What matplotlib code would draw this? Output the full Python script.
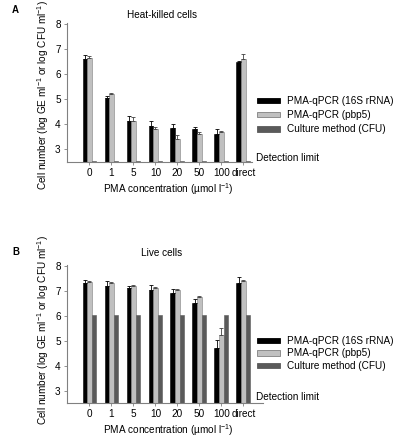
import numpy as np
import matplotlib
matplotlib.use("Agg")
import matplotlib.pyplot as plt
from matplotlib.patches import Patch

plt.rcParams["font.family"] = ["Liberation Sans", "DejaVu Sans"]
plt.rcParams["mathtext.default"] = "regular"

groups = ["0", "1", "5", "10", "20", "50", "100", "direct"]
series_names = ["PMA-qPCR (16S rRNA)", "PMA-qPCR (pbp5)", "Culture method (CFU)"]

# panel A: heat-killed cells
heat_16s = [6.60, 5.05, 4.15, 3.92, 3.85, 3.80, 3.63, 6.49]
heat_16s_err = [0.17, 0.08, 0.20, 0.20, 0.15, 0.11, 0.20, 0.03]
heat_pbp5 = [6.67, 5.20, 4.15, 3.81, 3.42, 3.60, 3.69, 6.63]
heat_pbp5_err = [0.07, 0.04, 0.16, 0.10, 0.15, 0.11, 0.03, 0.17]
heat_cfu = [2.55, 2.55, 2.55, 2.55, 2.55, 2.55, 2.55, 2.55]

# panel B: live cells
live_16s = [7.32, 7.22, 7.12, 7.03, 6.91, 6.54, 4.72, 7.32]
live_16s_err = [0.12, 0.20, 0.10, 0.20, 0.17, 0.16, 0.31, 0.23]
live_pbp5 = [7.38, 7.32, 7.19, 7.12, 7.05, 6.78, 5.23, 7.41]
live_pbp5_err = [0.03, 0.03, 0.04, 0.03, 0.03, 0.04, 0.30, 0.03]
live_cfu = [6.05, 6.05, 6.05, 6.05, 6.05, 6.05, 6.05, 6.05]

colors = ["black", "#c0c0c0", "#5a5a5a"]
edges = ["black", "#808080", "#5a5a5a"]
W, H = 398, 443


def fig_rect(x0, x1, ytop, ybot):
    return [x0 / W, 1 - ybot / H, (x1 - x0) / W, (ybot - ytop) / H]


def panel(fig, rect, right, v16, e16, vpb, epb, vcfu, title, letter, legend_top, spacing, det_y, ylab_y):
    ax = fig.add_axes(rect)
    x = np.arange(len(groups))
    bw = 0.21
    zeros = np.zeros(len(groups))
    ax.bar(x - bw, v16, bw, color=colors[0], edgecolor=edges[0], lw=0.4,
           yerr=[zeros, e16], capsize=1.5, error_kw=dict(lw=0.6, capthick=0.6, ecolor="black"))
    ax.bar(x, vpb, bw, color=colors[1], edgecolor=edges[1], lw=0.4,
           yerr=[zeros, epb], capsize=1.5, error_kw=dict(lw=0.6, capthick=0.6, ecolor="#404040"))
    ax.bar(x + bw, vcfu, bw, color=colors[2], edgecolor=edges[2], lw=0.4)
    ax.set_ylim(2.5, 8.05)
    ax.set_xlim(-1.02, right)
    ax.set_yticks([3, 4, 5, 6, 7, 8])
    ax.set_xticks(x)
    ax.set_xticklabels(groups)
    ax.tick_params(labelsize=7.2, length=2, width=0.6, pad=2.5, color="#808080")
    for s in ["top", "right"]:
        ax.spines[s].set_visible(False)
    for s in ["left", "bottom"]:
        ax.spines[s].set_color("#808080")
        ax.spines[s].set_linewidth(0.8)
    ax.set_ylabel("Cell number (log GE ml$^{-1}$ or log CFU ml$^{-1}$)", fontsize=7.2)
    ax.set_xlabel("PMA concentration (\u00b5mol l$^{-1}$)", fontsize=7.2)
    bb = ax.get_position()
    wpx, hpx = bb.width * W, bb.height * H
    bottom_px = (1 - bb.y0) * H
    ax.yaxis.set_label_coords(-(bb.x0 * W - 43) / wpx, (bottom_px - ylab_y) / hpx)
    ax.yaxis.label.set_va("center")
    ax.xaxis.set_label_coords((168 - bb.x0 * W) / wpx, -27 / hpx)
    ax.xaxis.label.set_va("center")
    fig.text(162 / W, 1 - title[1] / H, title[0], fontsize=7.2, ha="center", va="center")
    fig.text(12 / W, 1 - letter[1] / H, letter[0], fontsize=7, fontweight="bold", ha="left", va="center")
    fig.text(256 / W, 1 - det_y / H, "Detection limit", fontsize=7.2, ha="left", va="center")
    handles = [Patch(facecolor=c, edgecolor=e, lw=0.6) for c, e in zip(colors, edges)]
    fig.legend(handles, series_names, loc="upper left", bbox_to_anchor=(257 / W, 1 - legend_top / H),
               frameon=False, fontsize=7.2, handlelength=2.3, handleheight=0.45,
               handletextpad=0.7, labelspacing=spacing, borderpad=0, borderaxespad=0)
    return ax


fig = plt.figure(figsize=(W / 100, H / 100), dpi=100)
panel(fig, fig_rect(67, 252, 23, 162), 7.39, heat_16s, heat_16s_err, heat_pbp5, heat_pbp5_err,
      heat_cfu, ("Heat-killed cells", 15), ("A", 10), 96, 0.42, 158, 95)
panel(fig, fig_rect(67, 263, 265, 403), 7.89, live_16s, live_16s_err, live_pbp5, live_pbp5_err,
      live_cfu, ("Live cells", 253), ("B", 252), 336, 0.25, 397, 330)
fig.savefig("out.png", dpi=100)
